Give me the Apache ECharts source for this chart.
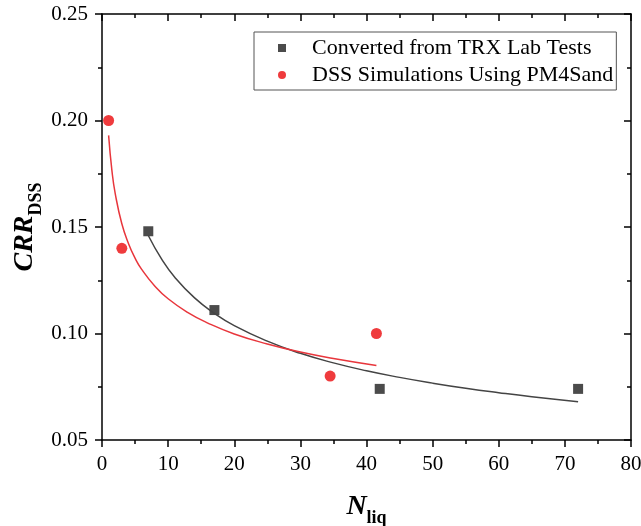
<!DOCTYPE html>
<html>
<head>
<meta charset="utf-8">
<script src="https://cdn.jsdelivr.net/npm/echarts@6/dist/echarts.min.js"></script>
<style>
  html, body { margin: 0; padding: 0; background: #fff; }
  #chart { width: 641px; height: 526px; }
</style>
</head>
<body>
<div id="chart"></div>
<script>
// measured points
const trxN = [7, 17, 42, 72];
const trxCRR = [0.148, 0.111, 0.074, 0.074];
const dssN = [1, 3, 34.5, 41.5];
const dssCRR = [0.200, 0.140, 0.080, 0.100];

// fitted curves
const trxFitN = [7, 9, 11, 14, 17, 20, 25, 30, 35, 40, 45, 50, 55, 60, 65, 72];
const trxFitCRR = [0.146, 0.135, 0.1264, 0.1167, 0.1095, 0.1037, 0.0964, 0.0907, 0.0862, 0.0825, 0.0794, 0.0767, 0.0743, 0.0722, 0.0703, 0.068];
const dssFitN = [1, 1.5, 2, 3, 4, 5, 6, 8, 10, 13, 16, 20, 25, 30, 35, 41.5];
const dssFitCRR = [0.193, 0.1765, 0.1657, 0.1515, 0.1423, 0.1354, 0.1301, 0.1222, 0.1163, 0.1098, 0.1049, 0.0998, 0.0951, 0.0913, 0.0883, 0.085];

const serif = "'Liberation Serif', 'Times New Roman', serif";
const zip = (xs, ys) => xs.map((x, i) => [x, ys[i]]);

const chart = echarts.init(document.getElementById('chart'), null, { renderer: 'canvas' });

const axisLine = { show: true, onZero: false, lineStyle: { color: '#000', width: 1.5 } };
// bottom/left ticks point out, top/right mirror axes point in
const tickOut = { show: true, inside: false, length: 7, lineStyle: { color: '#000', width: 1.5 } };
const tickIn = { show: true, inside: true, length: 7, lineStyle: { color: '#000', width: 1.5 } };
const minor = { show: true, splitNumber: 2, length: 4, lineStyle: { color: '#000', width: 1.5 } };

const nameRich = {
  a: { fontFamily: serif, fontSize: 28, fontWeight: 'bold', fontStyle: 'italic', color: '#000', verticalAlign: 'bottom' },
  b: { fontFamily: serif, fontSize: 18, fontWeight: 'bold', color: '#000', verticalAlign: 'bottom', padding: [0, 0, -6, 0] }
};

chart.setOption({
  animation: false,
  textStyle: { fontFamily: serif },
  grid: { left: 102, right: 10, top: 14, bottom: 86, outerBoundsMode: 'none' },
  legend: {
    orient: 'vertical',
    left: 254,
    top: 32,
    padding: [5, 3, 4, 24],
    itemGap: 5,
    itemWidth: 8,
    itemHeight: 8,
    borderColor: '#555',
    borderWidth: 1,
    data: ['Converted from TRX Lab Tests', 'DSS Simulations Using PM4Sand'],
    textStyle: { fontFamily: serif, fontSize: 22, color: '#000', padding: [0, 0, 0, 21] }
  },
  xAxis: [{
    type: 'value', min: 0, max: 80, interval: 10,
    axisLine, axisTick: tickOut, minorTick: minor, splitLine: { show: false },
    axisLabel: { fontFamily: serif, fontSize: 21, color: '#000', margin: 14 },
    name: '{a|N}{b|liq}',
    nameLocation: 'middle',
    nameGap: 53,
    nameTextStyle: { rich: nameRich }
  }, {
    type: 'value', position: 'top', min: 0, max: 80, interval: 10,
    axisLine, axisTick: tickIn, minorTick: minor, splitLine: { show: false },
    axisLabel: { show: false }
  }],
  yAxis: [{
    type: 'value', min: 0.05, max: 0.25, interval: 0.05,
    axisLine, axisTick: tickOut, minorTick: minor, splitLine: { show: false },
    axisLabel: { fontFamily: serif, fontSize: 21, color: '#000', margin: 14, formatter: v => v.toFixed(2) },
    name: '{a|CRR}{b|DSS}',
    nameLocation: 'middle',
    nameGap: 63,
    nameMoveOverlap: false,
    nameTextStyle: { rich: nameRich }
  }, {
    type: 'value', position: 'right', min: 0.05, max: 0.25, interval: 0.05,
    axisLine, axisTick: tickIn, minorTick: minor, splitLine: { show: false },
    axisLabel: { show: false }
  }],
  series: [
    {
      name: 'TRX fit', type: 'line', data: zip(trxFitN, trxFitCRR),
      showSymbol: false, smooth: true, silent: true,
      lineStyle: { color: '#444', width: 1.5 }
    },
    {
      name: 'DSS fit', type: 'line', data: zip(dssFitN, dssFitCRR),
      showSymbol: false, smooth: true, silent: true,
      lineStyle: { color: '#e8363c', width: 1.5 }
    },
    {
      name: 'Converted from TRX Lab Tests', type: 'scatter', symbol: 'rect', symbolSize: 10,
      data: zip(trxN, trxCRR), itemStyle: { color: '#4b4b4b', opacity: 1 }
    },
    {
      name: 'DSS Simulations Using PM4Sand', type: 'scatter', symbol: 'circle', symbolSize: 11,
      data: zip(dssN, dssCRR), itemStyle: { color: '#ef3b3d', opacity: 1 }
    }
  ]
});
</script>
</body>
</html>
